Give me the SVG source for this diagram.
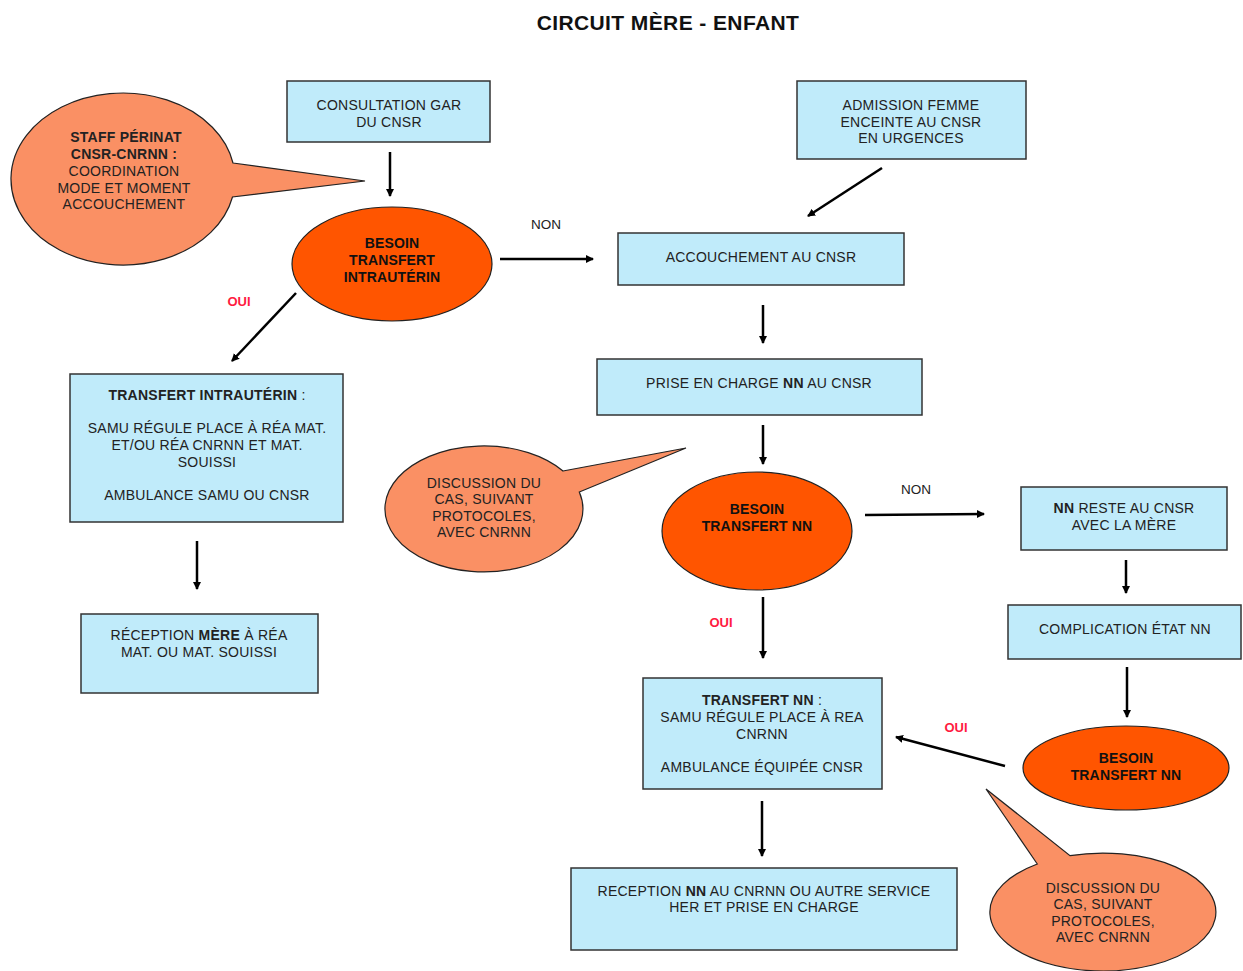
<svg xmlns="http://www.w3.org/2000/svg" width="1243" height="971" viewBox="0 0 1243 971">
<style>
text{font-family:"Liberation Sans",Arial,sans-serif;fill:#222;text-anchor:middle}
.t{font-size:14px;letter-spacing:0.25px}
.b{font-weight:bold}
.e{font-size:14px;font-weight:bold;fill:#111;letter-spacing:0.15px}
.box{fill:#C0EBFA;stroke:#333;stroke-width:1.5}
.dec{fill:#FF5500;stroke:#222;stroke-width:1.2}
.call{fill:#FA9064;stroke:#222;stroke-width:1.2}
.ar{stroke:#000;stroke-width:2.5;fill:none;marker-end:url(#ah)}
.oui{font-size:13px;font-weight:bold;fill:#FF1A40}
.non{font-size:13.5px}
</style>
<defs>
<marker id="ah" markerWidth="9" markerHeight="9" refX="7" refY="4.5" orient="auto" markerUnits="userSpaceOnUse" viewBox="0 0 9 9">
<path d="M0,0.5 L8,4.5 L0,8.5 Z" fill="#000"/>
</marker>
</defs>
<rect width="1243" height="971" fill="#fff"/>
<text x="668" y="30" style="font-size:21px;font-weight:bold;fill:#111;letter-spacing:0.4px">CIRCUIT MÈRE - ENFANT</text>

<g id="callout-staff">
<path class="call" d="M233,163 L365,181 L232.5,197 A112 86 0 1 1 233,163 Z"/>
<text class="t b" x="126" y="142">STAFF PÉRINAT</text>
<text class="t b" x="124" y="159">CNSR-CNRNN :</text>
<text class="t" x="124" y="176">COORDINATION</text>
<text class="t" x="124" y="193">MODE ET MOMENT</text>
<text class="t" x="124" y="209">ACCOUCHEMENT</text>
</g>

<g id="consultation">
<rect class="box" x="287" y="81" width="203" height="61"/>
<text class="t" x="389" y="110">CONSULTATION GAR</text>
<text class="t" x="389" y="127">DU CNSR</text>
</g>

<g id="admission">
<rect class="box" x="797" y="81" width="229" height="78"/>
<text class="t" x="911" y="110">ADMISSION FEMME</text>
<text class="t" x="911" y="127">ENCEINTE AU CNSR</text>
<text class="t" x="911" y="143">EN URGENCES</text>
</g>

<g id="besoin-iu">
<ellipse class="dec" cx="392" cy="264" rx="100" ry="57"/>
<text class="e" x="392" y="248">BESOIN</text>
<text class="e" x="392" y="265">TRANSFERT</text>
<text class="e" x="392" y="282">INTRAUTÉRIN</text>
</g>

<g id="accouchement">
<rect class="box" x="618" y="233" width="286" height="52"/>
<text class="t" x="761" y="262">ACCOUCHEMENT AU CNSR</text>
</g>

<g id="prise-en-charge">
<rect class="box" x="597" y="359" width="325" height="56"/>
<text class="t" x="759" y="388">PRISE EN CHARGE <tspan class="b">NN</tspan> AU CNSR</text>
</g>

<g id="transfert-iu">
<rect class="box" x="70" y="374" width="273" height="148"/>
<text class="t" x="207" y="400"><tspan class="b">TRANSFERT INTRAUTÉRIN</tspan> :</text>
<text class="t" x="207" y="433">SAMU RÉGULE PLACE À RÉA MAT.</text>
<text class="t" x="207" y="450">ET/OU RÉA CNRNN ET MAT.</text>
<text class="t" x="207" y="467">SOUISSI</text>
<text class="t" x="207" y="500">AMBULANCE SAMU OU CNSR</text>
</g>

<g id="reception-mere">
<rect class="box" x="81" y="614" width="237" height="79"/>
<text class="t" x="199" y="640">RÉCEPTION <tspan class="b">MÈRE</tspan> À RÉA</text>
<text class="t" x="199" y="657">MAT. OU MAT. SOUISSI</text>
</g>

<g id="callout-discussion-1">
<path class="call" d="M563,471 L686,448 L579.3,492 A99 63 0 1 1 563,471 Z"/>
<text class="t" x="484" y="488">DISCUSSION DU</text>
<text class="t" x="484" y="504">CAS, SUIVANT</text>
<text class="t" x="484" y="521">PROTOCOLES,</text>
<text class="t" x="484" y="537">AVEC CNRNN</text>
</g>

<g id="besoin-nn-1">
<ellipse class="dec" cx="757" cy="531" rx="95" ry="59"/>
<text class="e" x="757" y="514">BESOIN</text>
<text class="e" x="757" y="531">TRANSFERT NN</text>
</g>

<g id="nn-reste">
<rect class="box" x="1021" y="487" width="206" height="63"/>
<text class="t" x="1124" y="513"><tspan class="b">NN</tspan> RESTE AU CNSR</text>
<text class="t" x="1124" y="530">AVEC LA MÈRE</text>
</g>

<g id="complication">
<rect class="box" x="1008" y="605" width="233" height="54"/>
<text class="t" x="1125" y="634">COMPLICATION ÉTAT NN</text>
</g>

<g id="besoin-nn-2">
<ellipse class="dec" cx="1126" cy="768" rx="103" ry="42"/>
<text class="e" x="1126" y="763">BESOIN</text>
<text class="e" x="1126" y="780">TRANSFERT NN</text>
</g>

<g id="transfert-nn">
<rect class="box" x="643" y="678" width="239" height="111"/>
<text class="t" x="762" y="705"><tspan class="b">TRANSFERT NN</tspan> :</text>
<text class="t" x="762" y="722">SAMU RÉGULE PLACE À REA</text>
<text class="t" x="762" y="739">CNRNN</text>
<text class="t" x="762" y="772">AMBULANCE ÉQUIPÉE CNSR</text>
</g>

<g id="reception-nn">
<rect class="box" x="571" y="868" width="386" height="82"/>
<text class="t" x="764" y="896">RECEPTION <tspan class="b">NN</tspan> AU CNRNN OU AUTRE SERVICE</text>
<text class="t" x="764" y="912">HER ET PRISE EN CHARGE</text>
</g>

<g id="callout-discussion-2">
<path class="call" d="M1037.3,864 L986,789 L1070,855.6 A113 59 0 1 1 1037.3,864 Z"/>
<text class="t" x="1103" y="893">DISCUSSION DU</text>
<text class="t" x="1103" y="909">CAS, SUIVANT</text>
<text class="t" x="1103" y="926">PROTOCOLES,</text>
<text class="t" x="1103" y="942">AVEC CNRNN</text>
</g>

<g id="connectors">
<line class="ar" x1="390" y1="152" x2="390" y2="196"/>
<line class="ar" x1="500" y1="259" x2="593" y2="259"/>
<line class="ar" x1="882" y1="168" x2="808" y2="216"/>
<line class="ar" x1="763" y1="305" x2="763" y2="343"/>
<line class="ar" x1="763" y1="425" x2="763" y2="464"/>
<line class="ar" x1="296" y1="293" x2="232" y2="361"/>
<line class="ar" x1="197" y1="541" x2="197" y2="589"/>
<line class="ar" x1="865" y1="515" x2="984" y2="514"/>
<line class="ar" x1="1126" y1="560" x2="1126" y2="593"/>
<line class="ar" x1="763" y1="597" x2="763" y2="658"/>
<line class="ar" x1="1127" y1="667" x2="1127" y2="717"/>
<line class="ar" x1="1005" y1="766" x2="896" y2="737"/>
<line class="ar" x1="762" y1="801" x2="762" y2="856"/>
<text class="non" x="546" y="229">NON</text>
<text class="non" x="916" y="494">NON</text>
<text class="oui" x="239" y="306">OUI</text>
<text class="oui" x="721" y="627">OUI</text>
<text class="oui" x="956" y="732">OUI</text>
</g>
</svg>
